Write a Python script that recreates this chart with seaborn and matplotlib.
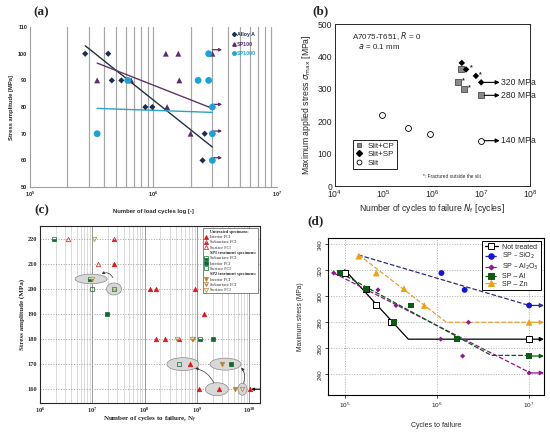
import matplotlib
matplotlib.use("Agg")
import matplotlib.pyplot as plt
import matplotlib.ticker as mtick
from matplotlib.lines import Line2D
from matplotlib.patches import Ellipse
from matplotlib.transforms import ScaledTranslation
import pandas as pd
import seaborn as sns

# ---------------- (a) ----------------
a_alloy_n = [2.8e5, 4.3e5, 4.6e5, 5.5e5, 8.6e5, 9.8e5, 2.6e6, 2.5e6]
a_alloy_s = [100, 100, 90, 90, 80, 80, 70, 60]
a_sp100_n = [3.5e5, 6.6e5, 1.26e6, 1.59e6, 1.62e6, 1.29e6, 2.0e6, 3.0e6]
a_sp100_s = [90, 90, 100, 100, 90, 80, 70, 100]
a_sp1000_n = [3.5e5, 6.2e5, 2.3e6, 2.8e6, 2.8e6, 3.0e6, 3.0e6, 3.0e6]
a_sp1000_s = [70, 90, 90, 90, 100, 80, 70, 60]
a_alloy_fit_n = [2.8e5, 3.0e6]
a_alloy_fit_s = [103, 65]
a_sp100_fit_n = [3.5e5, 3.0e6]
a_sp100_fit_s = [96.5, 79.5]
a_sp1000_fit_n = [3.5e5, 3.0e6]
a_sp1000_fit_s = [79.5, 78]
a_runout_n = 3.0e6
a_runout_s = [101.5, 81, 71, 61]

# ---------------- (b) ----------------
b_cp_n = [3.85e6, 3.4e6, 4.5e6, 1e7]
b_cp_s = [360, 320, 300, 280]
b_sp_n = [4.0e6, 4.9e6, 7.8e6, 1e7]
b_sp_s = [380, 360, 340, 320]
b_slit_n = [9.2e4, 3.2e5, 9.1e5, 1e7]
b_slit_s = [220, 180, 160, 140]
b_star_n = [4.9e6, 3.4e6, 4.5e6, 7.8e6]
b_star_s = [360, 320, 300, 340]
b_runout_n = 1e7
b_runout_s = [320, 280, 140]
b_runout_labels = ["320 MPa", "280 MPa", "140 MPa"]

# ---------------- (c) ----------------
c_un_n = [3.4e6, 2.6e7, 1.3e7, 2.6e7, 1.29e8, 1.67e8, 9.1e8, 1.34e9, 1.63e8,
          2.45e8, 4.6e8, 7.4e8, 1.07e9, 2.6e9, 1.02e10]
c_un_s = [220, 220, 210, 210, 200, 200, 200, 190, 180, 180, 180, 170, 160, 160, 160]
c_un_fci = ["Surface", "Subsurface", "Surface", "Interior", "Interior", "Interior",
            "Interior", "Interior", "Interior", "Interior", "Subsurface", "Interior",
            "Interior", "Interior", "Interior"]
c_sp1_n = [1.87e6, 9.1e6, 9.9e6, 2.55e7, 1.87e7, 1.15e9, 2.0e9, 4.5e8, 4.5e9]
c_sp1_s = [220, 204, 200, 200, 190, 180, 180, 170, 170]
c_sp1_fci = ["Subsurface", "Subsurface", "Surface", "Surface", "Interior",
             "Subsurface", "Interior", "Surface", "Interior"]
c_sp2_n = [1.07e7, 1.0e7, 2.65e7, 4.2e8, 7.9e8, 8.3e8, 3.0e9, 5.4e9, 7.4e9]
c_sp2_s = [220, 204, 200, 180, 180, 180, 170, 160, 160]
c_sp2_fci = ["Surface", "Subsurface", "Surface", "Subsurface", "Subsurface",
             "Interior", "Interior", "Interior", "Surface"]
c_ell_n = [9.5e6, 2.6e7, 5.4e8, 3.5e9, 2.4e9, 7.4e9]
c_ell_s = [204, 200, 170, 170, 160, 160]
c_ell_w = [0.32, 0.15, 0.32, 0.31, 0.23, 0.09]
c_ell_h = [0.095, 0.12, 0.13, 0.12, 0.13, 0.12]

# ---------------- (d) ----------------
d_nt_n = [1e5, 1.7e5, 2.2e5, 3.2e5, 1e7]
d_nt_s = [318, 306, 293, 280, 267]
d_nt_fit_n = [1e5, 4.9e5, 1e7]
d_nt_fit_s = [320.5, 267, 267]
d_sio2_n = [1.12e6, 2.0e6, 1e7]
d_sio2_s = [318, 305, 293]
d_sio2_fit_n = [1.4e5, 1e7]
d_sio2_fit_s = [332, 293]
d_al2o3_n = [7.6e4, 2.3e5, 3.6e5, 1.1e6, 1.9e6, 2.2e6, 1e7]
d_al2o3_s = [318, 305, 293, 267, 254, 280, 241]
d_al2o3_fit_n = [7.6e4, 1e7]
d_al2o3_fit_s = [318, 241.5]
d_al_n = [9e4, 1.7e5, 5.2e5, 3.4e5, 1.65e6, 1e7]
d_al_s = [318, 306, 293, 280, 267, 254]
d_al_fit_n = [9e4, 3.9e6, 1e7]
d_al_fit_s = [318, 254.5, 254.5]
d_zn_n = [1.42e5, 2.2e5, 4.4e5, 7.3e5, 1e7]
d_zn_s = [331, 318, 306, 293, 280]
d_zn_fit_n = [1.42e5, 1.27e6, 1e7]
d_zn_fit_s = [332, 280, 280]

sns.set_style("white")
plt.rcParams["font.family"] = ["Liberation Sans", "DejaVu Sans"]
plt.rcParams["mathtext.fontset"] = "dejavusans"

fig = plt.figure(figsize=(5.5, 4.33), dpi=100)

SERIF = ["Liberation Serif", "DejaVu Serif"]


def arrow(ax, x0, x1, y, color, lw=0.8, ms=6):
    ax.annotate("", xy=(x1, y), xytext=(x0, y),
                arrowprops=dict(arrowstyle="-|>", color=color, lw=lw,
                                mutation_scale=ms, shrinkA=0, shrinkB=0))


# ---------------- panel (a) ----------------
ax = fig.add_axes([0.0545, 0.568, 0.449, 0.3695])
ax.set_xscale("log")
ax.set_xlim(1e5, 1e7)
ax.set_ylim(50, 110)
for k in [2, 3, 4, 5, 6, 7, 8, 9, 10, 20, 30, 40, 50, 60, 70, 80, 90]:
    ax.axvline(k * 1e5, color="#a8a8a8", lw=0.9, zorder=0)
col_a = {"Alloy A": "#1c2d4f", "SP100": "#5c2d6e", "SP1000": "#1ba3d8"}
sns.lineplot(x=a_alloy_fit_n, y=a_alloy_fit_s, color="#1d3440", lw=1.0, ax=ax)
sns.lineplot(x=a_sp100_fit_n, y=a_sp100_fit_s, color="#5e3564", lw=1.0, ax=ax)
sns.lineplot(x=a_sp1000_fit_n, y=a_sp1000_fit_s, color="#2aa3c9", lw=1.0, ax=ax)
sns.scatterplot(x=a_alloy_n, y=a_alloy_s, marker="D", s=10, color=col_a["Alloy A"],
                edgecolor="none", ax=ax, zorder=3)
sns.scatterplot(x=a_sp100_n, y=a_sp100_s, marker="^", s=18, color=col_a["SP100"],
                edgecolor="none", ax=ax, zorder=3)
sns.scatterplot(x=a_sp1000_n, y=a_sp1000_s, marker="o", s=24, color=col_a["SP1000"],
                edgecolor="none", ax=ax, zorder=4)
for y in a_runout_s:
    arrow(ax, a_runout_n, a_runout_n * 1.2, y, "#5c2d6e", lw=0.9, ms=4)
ax.set_yticks(range(50, 111, 10))
ax.set_xticks([1e5, 1e6, 1e7])
ax.xaxis.set_minor_locator(mtick.NullLocator())
ax.tick_params(length=0, labelsize=4, pad=2)
for t in ax.get_xticklabels() + ax.get_yticklabels():
    t.set_fontweight("bold")
ax.set_xlabel("Number of load cycles log [-]", fontsize=4.2, fontweight="bold", labelpad=7)
ax.set_ylabel("Stress amplitude [MPa]", fontsize=4.2, fontweight="bold", labelpad=3)
for side in ["top", "right"]:
    ax.spines[side].set_visible(False)
for side in ["left", "bottom"]:
    ax.spines[side].set_color("#a0a0a0")
    ax.spines[side].set_linewidth(0.8)
handles = [Line2D([], [], marker="D", ls="none", ms=2, color=col_a["Alloy A"]),
           Line2D([], [], marker="^", ls="none", ms=2.5, color=col_a["SP100"]),
           Line2D([], [], marker="o", ls="none", ms=2.5, color=col_a["SP1000"])]
leg = ax.legend(handles, list(col_a), loc="upper left", bbox_to_anchor=(0.8, 1.0),
                frameon=False, fontsize=3.8, handlelength=0.6, handletextpad=0.3,
                labelspacing=0.9)
for t, c in zip(leg.get_texts(), col_a.values()):
    t.set_color(c)
    t.set_fontweight("bold")

# ---------------- panel (b) ----------------
ax = fig.add_axes([0.609, 0.5704, 0.3545, 0.374])
ax.set_xscale("log")
ax.set_xlim(1e4, 1e8)
ax.set_ylim(0, 500)
sns.scatterplot(x=b_cp_n, y=b_cp_s, marker="s", s=16, color="#8a8a8a",
                edgecolor="#333333", linewidth=0.5, ax=ax, zorder=3)
sns.scatterplot(x=b_sp_n, y=b_sp_s, marker="D", s=11, color="black",
                edgecolor="none", ax=ax, zorder=3)
sns.scatterplot(x=b_slit_n, y=b_slit_s, marker="o", s=18, facecolor="white",
                edgecolor="black", linewidth=0.6, ax=ax, zorder=3)
for x, y in zip(b_star_n, b_star_s):
    ax.annotate("*", (x, y), xytext=(2.5, 0), textcoords="offset points",
                fontsize=5, fontweight="bold")
for y, lab in zip(b_runout_s, b_runout_labels):
    arrow(ax, b_runout_n * 1.15, b_runout_n * 2.4, y, "black", lw=0.8, ms=6)
    ax.text(b_runout_n * 2.6, y, lab, fontsize=6.2, va="center")
ax.text(0.085, 0.925, "A7075-T651, $R$ = 0", transform=ax.transAxes, fontsize=5.8,
        va="center")
ax.text(0.12, 0.86, "$a$ = 0.1 mm", transform=ax.transAxes, fontsize=5.8, va="center")
ax.text(0.45, 0.06, "*: Fractured outside the slit", transform=ax.transAxes,
        fontsize=3.4, va="center")
ax.set_yticks(range(0, 501, 100))
ax.set_xticks([1e4, 1e5, 1e6, 1e7, 1e8])
ax.xaxis.set_minor_locator(mtick.LogLocator(subs=range(2, 10)))
ax.xaxis.set_minor_formatter(mtick.NullFormatter())
ax.tick_params(which="both", direction="in", labelsize=6.2, pad=2)
ax.tick_params(which="major", length=3, width=0.6)
ax.tick_params(which="minor", length=1.5, width=0.5)
ax.set_xlabel("Number of cycles to failure $N_{\\rm f}$ [cycles]", fontsize=6.2, labelpad=1)
ax.set_ylabel("Maximum applied stress $\\sigma_{\\rm max}$ [MPa]", fontsize=6.2, labelpad=3)
for s in ax.spines.values():
    s.set_linewidth(0.7)
handles = [Line2D([], [], marker="s", ls="none", ms=3.5, color="#8a8a8a", mec="#333333", mew=0.5),
           Line2D([], [], marker="D", ls="none", ms=3, color="black"),
           Line2D([], [], marker="o", ls="none", ms=3.5, mfc="white", mec="black", mew=0.6)]
leg = ax.legend(handles, ["Slit+CP", "Slit+SP", "Slit"], loc="lower left",
                bbox_to_anchor=(0.07, 0.08), fontsize=5.8, handlelength=1.0,
                handletextpad=0.6, labelspacing=0.1, borderpad=0.3,
                fancybox=False, edgecolor="black", framealpha=1)
leg.get_frame().set_linewidth(0.6)

# ---------------- panel (c) ----------------
ax = fig.add_axes([0.0727, 0.0693, 0.4, 0.408])
ax.set_xscale("log")
ax.set_xlim(1e6, 1.6e10)
ax.set_ylim(154.5, 225)
ax.grid(which="major", axis="x", color="#9a9a9a", lw=0.7)
ax.grid(which="minor", axis="x", color="#d4d4d4", lw=0.6)
ax.grid(which="major", axis="y", color="#a0a0a0", lw=0.7, ls=":")
ax.set_axisbelow(True)

fill_map = {"Interior": "full", "Subsurface": "bottom", "Surface": "none"}
trans = fig.dpi_scale_trans
for cx, cy, w, h in zip(c_ell_n, c_ell_s, c_ell_w, c_ell_h):
    off = ScaledTranslation(cx, cy, ax.transData)
    ax.add_patch(Ellipse((0, 0), w, h, transform=trans + off, facecolor="#d8d8d8",
                         edgecolor="#8a8a8a", lw=0.5, zorder=2))

groups = [(c_un_n, c_un_s, c_un_fci, "^", "#e0141b", 3.2),
          (c_sp1_n, c_sp1_s, c_sp1_fci, "s", "#0d6a2c", 2.8),
          (c_sp2_n, c_sp2_s, c_sp2_fci, "v", "#b38630", 3.2)]
for ns, ss, fcis, mk, col, ms in groups:
    df = pd.DataFrame({"n": ns, "s": ss, "fci": fcis})
    for fci, sub in df.groupby("fci"):
        ax.plot(sub["n"], sub["s"], ls="none", marker=mk, ms=ms, color=col,
                fillstyle=fill_map[fci], markerfacecoloralt="white", mec=col,
                mew=0.5, zorder=4)

conn = [((2.6e7, 203.5), (1.35e7, 205.5), "arc3,rad=0.6"),
        ((2.2e9, 161.5), (8.2e8, 168.5), "arc3,rad=0.3"),
        ((7.4e9, 161.5), (6.5e9, 169.5), "arc3,rad=0.35")]
for start, end, cs in conn:
    ax.annotate("", xy=end, xytext=start,
                arrowprops=dict(arrowstyle="-|>", color="#333333", lw=0.5,
                                mutation_scale=4, connectionstyle=cs))
arrow(ax, 1.6e10, 1.08e10, 160, "black", lw=0.8, ms=4)

ax.set_yticks(range(160, 221, 10))
ax.yaxis.set_minor_locator(mtick.MultipleLocator(5))
ax.set_xticks([1e6, 1e7, 1e8, 1e9, 1e10])
ax.xaxis.set_minor_locator(mtick.LogLocator(subs=range(2, 10)))
ax.xaxis.set_minor_formatter(mtick.NullFormatter())
ax.tick_params(which="both", direction="in", labelsize=4.6, pad=2)
ax.tick_params(which="major", length=2.5, width=0.6)
ax.tick_params(which="minor", length=1.3, width=0.4)
for t in ax.get_xticklabels() + ax.get_yticklabels():
    t.set_family(SERIF)
    t.set_fontweight("bold")
ax.set_xlabel("Number of cycles to failure, N$_{\\rm f}$", fontsize=5, family=SERIF,
              fontweight="bold", labelpad=0)
ax.set_ylabel("Stress amplitude (MPa)", fontsize=5, family=SERIF, fontweight="bold",
              labelpad=2)
for s in ax.spines.values():
    s.set_linewidth(0.8)

blank = Line2D([], [], ls="none")
handles, labels = [], []
for title, mk, col, names in [
        ("Untreated specimens:", "^", "#e0141b", ["Interior", "Subsurface", "Surface"]),
        ("SP1 treatment specimens:", "s", "#0d6a2c", ["Subsurface", "Interior", "Surface"]),
        ("SP2 treatment specimens:", "v", "#b38630", ["Interior", "Subsurface", "Surface"])]:
    handles.append(blank)
    labels.append(title)
    for nm in names:
        handles.append(Line2D([], [], ls="none", marker=mk, ms=3, color=col,
                              fillstyle=fill_map[nm], markerfacecoloralt="white",
                              mec=col, mew=0.5))
        labels.append(nm + " FCI")
leg = ax.legend(handles, labels, loc="upper right", bbox_to_anchor=(1.0, 1.0),
                prop={"family": SERIF, "size": 3.1}, handlelength=0.8,
                handletextpad=0.5, labelspacing=0.3, borderpad=0.3,
                fancybox=False, edgecolor="#555555", framealpha=1)
leg.get_frame().set_linewidth(0.5)
for t in leg.get_texts():
    if t.get_text().endswith(":"):
        t.set_fontweight("bold")

# ---------------- panel (d) ----------------
ax = fig.add_axes([0.5964, 0.0878, 0.3927, 0.3626])
ax.set_xscale("log")
ax.set_xlim(6.6e4, 1.45e7)
ax.set_ylim(224, 345)
ax.grid(which="major", color="#b0b0b0", lw=0.7, ls=":")

d_series = [
    ("Not treated", d_nt_fit_n, d_nt_fit_s, d_nt_n, d_nt_s, "s", "black", "black", "-", True),
    ("SP – SiO$_2$", d_sio2_fit_n, d_sio2_fit_s, d_sio2_n, d_sio2_s, "o", "#1414dc", "#2e2e7a", "--", False),
    ("SP – Al$_2$O$_3$", d_al2o3_fit_n, d_al2o3_fit_s, d_al2o3_n, d_al2o3_s, "D", "#8c1a8c", "#8c1a8c", "--", False),
    ("SP – Al", d_al_fit_n, d_al_fit_s, d_al_n, d_al_s, "s", "#0b5c12", "#0b5c12", "--", False),
    ("SP – Zn", d_zn_fit_n, d_zn_fit_s, d_zn_n, d_zn_s, "^", "#f0a010", "#e2a23a", "--", False),
]
handles = []
for label, fn, fs, pn, ps, mk, mc, lc, ls, hollow in d_series:
    sns.lineplot(x=fn, y=fs, color=lc, lw=0.9, ls=ls, ax=ax, sort=False)
    size = {"s": 18, "o": 18, "D": 7, "^": 24}[mk]
    if hollow:
        sns.scatterplot(x=pn, y=ps, marker=mk, s=size, facecolor="white",
                        edgecolor=mc, linewidth=0.7, ax=ax, zorder=4)
    else:
        sns.scatterplot(x=pn, y=ps, marker=mk, s=size, color=mc,
                        edgecolor="none", ax=ax, zorder=4)
    arrow(ax, pn[-1], 1.45e7, ps[-1], lc, lw=0.9, ms=6)
    handles.append(Line2D([], [], color=lc, ls=ls, lw=0.9, marker=mk,
                          ms={"s": 4, "o": 4, "D": 2.5, "^": 4.5}[mk],
                          mfc="white" if hollow else mc, mec=mc, mew=0.7))
ax.set_yticks(range(240, 341, 20))
ax.set_xticks([1e5, 1e6, 1e7])
ax.xaxis.set_minor_locator(mtick.NullLocator())
ax.tick_params(which="major", direction="out", length=2.5, width=0.6,
               labelsize=4.6, pad=1.5, left=True, bottom=True)
plt.setp(ax.get_yticklabels(), rotation=90, va="center")
ax.set_xlabel("Cycles to failure", fontsize=5, labelpad=9)
ax.set_ylabel("Maximum stress (MPa)", fontsize=4.8, labelpad=10)
for s in ax.spines.values():
    s.set_linewidth(0.8)
    s.set_color("black")
leg = ax.legend(handles, [s[0] for s in d_series], loc="upper right",
                bbox_to_anchor=(1.0, 1.0), fontsize=5, handlelength=2.0,
                handletextpad=0.5, labelspacing=0.1, borderpad=0.3,
                fancybox=False, edgecolor="black", framealpha=1)
leg.get_frame().set_linewidth(0.7)

# ---------------- panel labels ----------------
for lab, x, y in [("(a)", 0.06, 0.985), ("(b)", 0.568, 0.987),
                  ("(c)", 0.063, 0.528), ("(d)", 0.558, 0.503)]:
    fig.text(x, y, lab, fontsize=9.5, fontweight="bold", family=SERIF,
             ha="left", va="top")

fig.savefig("out.png", dpi=100, facecolor="white")
